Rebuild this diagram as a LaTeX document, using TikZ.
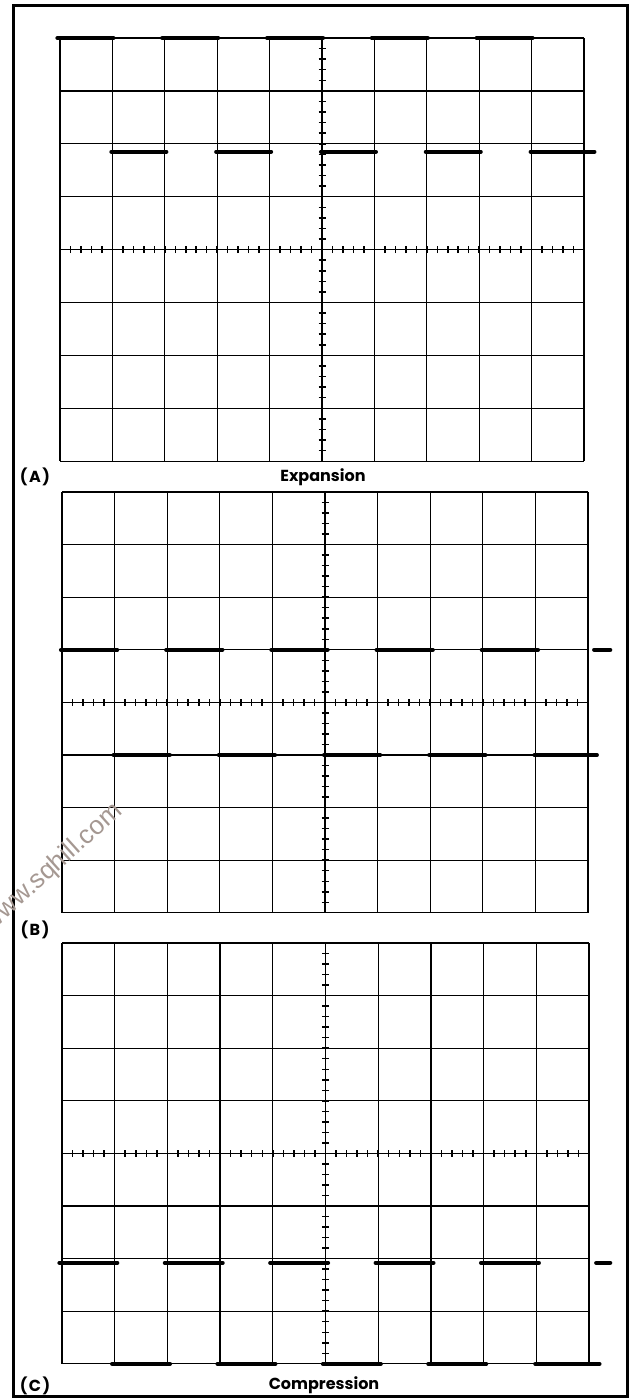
\documentclass[tikz,border=0pt]{standalone}
\usepackage{fontspec}
\setmainfont{Poppins}
\newfontfamily\wmfont{Liberation Sans}
\begin{document}
\begin{tikzpicture}[x=1pt,y=-1pt,
  gridline/.style={line width=1.3pt,black},
  tickline/.style={line width=1.5pt,black},
  trace/.style={line width=4pt,line cap=round,black},
  marker/.style={line width=4.5pt,line cap=round,black},
  frame/.style={line width=3pt,black},
  lbl/.style={font=\bfseries\fontsize{16}{16}\selectfont,inner sep=0pt},
  wm/.style={font=\wmfont\fontsize{26}{26}\selectfont,text={rgb,255:red,165;green,152;blue,146},inner sep=0pt}]
\useasboundingbox (0,0) rectangle (635,1399);
\fill[white] (0,0) rectangle (635,1399);
\draw[frame] (13,6) rectangle (627,1396);
\newcommand\drawgrat{%
  \foreach \i in {0,...,10} \draw[gridline] (\i,0) -- (\i,8);
  \foreach \j in {0,...,8} \draw[gridline] (0,\j) -- (10,\j);
  \foreach \t in {1,...,39} \draw[tickline] (5,\t/5) ++(-3.5pt,0) -- ++(7pt,0);
  \foreach \t in {1,...,49} \draw[tickline] (\t/5,4) ++(0,-3.5pt) -- ++(0,7pt);
}
% (A)
\begin{scope}[shift={(60,38)},x=52.4pt,y=-52.9pt]
  \drawgrat
  \foreach \k in {0,2,4,6,8} \draw[trace] (\k-0.05,0) -- (\k+1.02,0);
  \foreach \k in {1,3,5,7} \draw[trace] (\k-0.02,2.15) -- (\k+1.03,2.15);
  \draw[trace] (8.98,2.15) -- (10.2,2.15);
\end{scope}
% (B)
\begin{scope}[shift={(62,492)},x=52.6pt,y=-52.6pt]
  \drawgrat
  \foreach \k in {0,2,4,6,8} \draw[trace] (\k-0.02,3) -- (\k+1.05,3);
  \foreach \k in {1,3,5,7} \draw[trace] (\k-0.02,5) -- (\k+1.05,5);
  \draw[trace] (8.98,5) -- (10.17,5);
  \draw[marker] (10.12,3) -- (10.42,3);
\end{scope}
% (C)
\begin{scope}[shift={(62,943)},x=52.7pt,y=-52.6pt]
  \drawgrat
  \foreach \k in {0,2,4,6,8} \draw[trace] (\k-0.05,6.08) -- (\k+1.05,6.08);
  \foreach \k in {1,3,5,7} \draw[trace] (\k-0.05,8) -- (\k+1.05,8);
  \draw[trace] (8.98,8) -- (10.2,8);
  \draw[marker] (10.14,6.08) -- (10.4,6.08);
\end{scope}
% labels
\node[lbl] (la) at (35,477) {(\kern1.5pt A\kern1.5pt)};
\node[lbl] (ta) at (323,477) {Expansion};
\node[lbl] (lb) at (35,930) {(\kern1.5pt B\kern1.5pt)};
\node[lbl] (lc) at (35,1386) {(\kern1.5pt C\kern1.5pt)};
\node[lbl] (tc) at (324,1385) {Compression};
% watermark
\node[wm,rotate=42,anchor=east] (wmk) at (119,808) {www.sqhill.com};
\end{tikzpicture}
\end{document}
